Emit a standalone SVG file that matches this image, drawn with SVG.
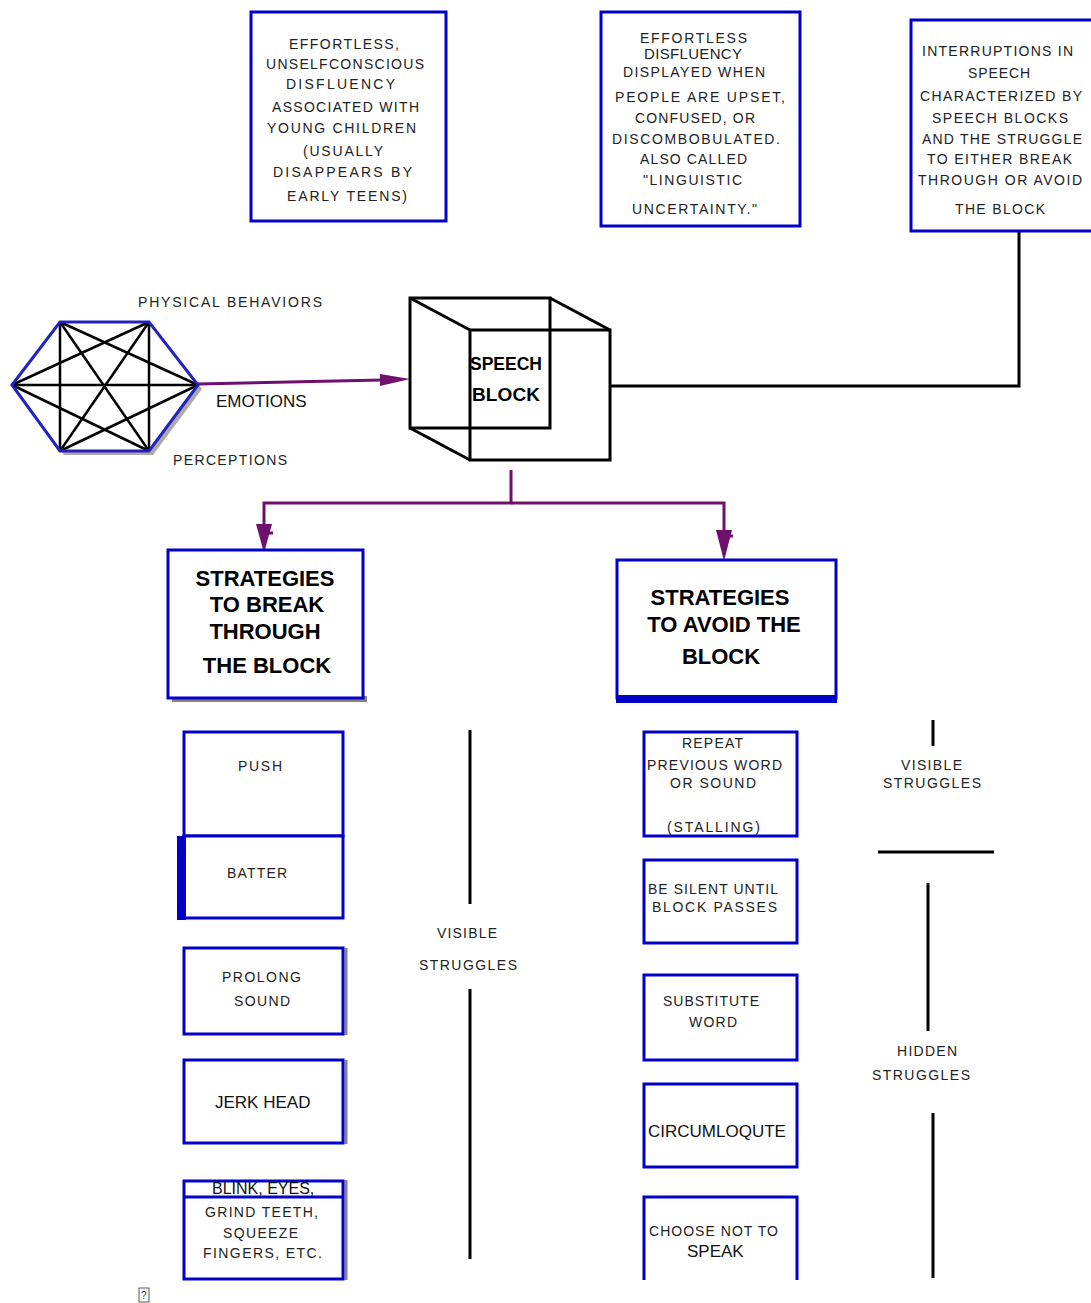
<svg xmlns="http://www.w3.org/2000/svg" width="1091" height="1303" viewBox="0 0 1091 1303">
<style>
.box{fill:#fff;stroke:#0000c8;stroke-width:3}
.sp{font-family:"Liberation Sans",Arial,sans-serif;font-size:14px;fill:#222}
.rg{font-family:"Liberation Sans",Arial,sans-serif;font-size:17px;fill:#111}
.bd{font-family:"Liberation Sans",Arial,sans-serif;font-size:22px;font-weight:bold;fill:#000;text-anchor:middle}
.ln{stroke:#000;stroke-width:3;fill:none}
.pl{stroke:#70106e;stroke-width:3;fill:none}
.pf{fill:#70106e}
.hx{stroke:#2222c0;stroke-width:3;fill:none}
.dg{stroke:#000;stroke-width:2.5}
.gy{stroke:#8a8282;stroke-width:3}
</style>
<rect width="1091" height="1303" fill="#fff"/>

<g id="connectors">
  <polyline class="ln" points="610,386 1019,386 1019,231"/>
  <line class="pl" x1="198" y1="384" x2="382" y2="380" stroke-width="2"/>
  <polygon class="pf" points="380,374 410,379 380,386"/>
  <polyline class="pl" points="511,470 511,503 264,503 264,526"/>
  <polyline class="pl" points="511,503 724,503 724,532"/>
  <polygon class="pf" points="256,524 272,524 264,553"/>
  <line class="pl" x1="264" y1="533" x2="273" y2="533"/>
  <polygon class="pf" points="716,530 732,530 724,561"/>
  <line class="pl" x1="724" y1="536" x2="733" y2="536"/>
</g>

<g id="box-effortless-children">
  <rect class="box" x="251" y="12" width="195" height="209"/>
  <text class="sp" x="289" y="49" textLength="110" lengthAdjust="spacing">EFFORTLESS,</text>
  <text class="sp" x="266" y="69" textLength="158" lengthAdjust="spacing">UNSELFCONSCIOUS</text>
  <text class="sp" x="286" y="89" textLength="109" lengthAdjust="spacing">DISFLUENCY</text>
  <text class="sp" x="272" y="112" textLength="147" lengthAdjust="spacing">ASSOCIATED WITH</text>
  <text class="sp" x="267" y="133" textLength="149" lengthAdjust="spacing">YOUNG CHILDREN</text>
  <text class="sp" x="303" y="156" textLength="80" lengthAdjust="spacing">(USUALLY</text>
  <text class="sp" x="273" y="177" textLength="139" lengthAdjust="spacing">DISAPPEARS BY</text>
  <text class="sp" x="287" y="201" textLength="120" lengthAdjust="spacing">EARLY TEENS)</text>
</g>

<g id="box-effortless-upset">
  <rect class="box" x="601" y="12" width="199" height="214"/>
  <text class="sp" x="640" y="43" textLength="107" lengthAdjust="spacing">EFFORTLESS</text>
  <text class="sp" x="644" y="59" style="font-size:15px" textLength="98" lengthAdjust="spacing">DISFLUENCY</text>
  <text class="sp" x="623" y="77" textLength="142" lengthAdjust="spacing">DISPLAYED WHEN</text>
  <text class="sp" x="615" y="102" textLength="170" lengthAdjust="spacing">PEOPLE ARE UPSET,</text>
  <text class="sp" x="635" y="123" textLength="120" lengthAdjust="spacing">CONFUSED, OR</text>
  <text class="sp" x="612" y="144" textLength="168" lengthAdjust="spacing">DISCOMBOBULATED.</text>
  <text class="sp" x="640" y="164" textLength="107" lengthAdjust="spacing">ALSO CALLED</text>
  <text class="sp" x="643" y="185" textLength="99" lengthAdjust="spacing">"LINGUISTIC</text>
  <text class="sp" x="632" y="214" textLength="125" lengthAdjust="spacing">UNCERTAINTY."</text>
</g>

<g id="box-interruptions">
  <rect class="box" x="911" y="20" width="200" height="211"/>
  <text class="sp" x="922" y="56" textLength="151" lengthAdjust="spacing">INTERRUPTIONS IN</text>
  <text class="sp" x="968" y="78" textLength="62" lengthAdjust="spacing">SPEECH</text>
  <text class="sp" x="920" y="101" textLength="162" lengthAdjust="spacing">CHARACTERIZED BY</text>
  <text class="sp" x="932" y="123" textLength="136" lengthAdjust="spacing">SPEECH BLOCKS</text>
  <text class="sp" x="922" y="144" textLength="160" lengthAdjust="spacing">AND THE STRUGGLE</text>
  <text class="sp" x="927" y="164" textLength="145" lengthAdjust="spacing">TO EITHER BREAK</text>
  <text class="sp" x="918" y="185" textLength="164" lengthAdjust="spacing">THROUGH OR AVOID</text>
  <text class="sp" x="955" y="214" textLength="90" lengthAdjust="spacing">THE BLOCK</text>
</g>

<g id="hexagon">
  <polygon points="16,389 64,326 153,326 202,389 153,455 64,455" fill="#9a9494" opacity="0.8"/>
  <polygon points="12,385 60,322 149,322 198,385 149,451 60,451" fill="#fff"/>
  <line class="dg" x1="12" y1="385" x2="149" y2="322"/>
  <line class="dg" x1="12" y1="385" x2="198" y2="385"/>
  <line class="dg" x1="12" y1="385" x2="149" y2="451"/>
  <line class="dg" x1="60" y1="322" x2="198" y2="385"/>
  <line class="dg" x1="60" y1="322" x2="149" y2="451"/>
  <line class="dg" x1="60" y1="322" x2="60" y2="451" stroke-width="2"/>
  <line class="dg" x1="60" y1="451" x2="149" y2="322"/>
  <line class="dg" x1="60" y1="451" x2="198" y2="385"/>
  <line class="dg" x1="149" y1="322" x2="149" y2="451" stroke-width="4"/>
  <polygon class="hx" points="12,385 60,322 149,322 198,385 149,451 60,451"/>
  <text class="sp" x="138" y="307" textLength="184" lengthAdjust="spacing">PHYSICAL BEHAVIORS</text>
  <text class="rg" x="216" y="407">EMOTIONS</text>
  <text class="sp" x="173" y="465" textLength="114" lengthAdjust="spacing">PERCEPTIONS</text>
</g>

<g id="speech-block">
  <rect class="ln" x="410" y="298" width="140" height="130"/>
  <rect class="ln" x="470" y="330" width="140" height="130"/>
  <line class="ln" x1="410" y1="298" x2="470" y2="330"/>
  <line class="ln" x1="550" y1="298" x2="610" y2="330"/>
  <line class="ln" x1="410" y1="428" x2="470" y2="460"/>
  <text x="470" y="370" textLength="72" lengthAdjust="spacingAndGlyphs" style="font-family:'Liberation Sans',Arial,sans-serif;font-size:19px;font-weight:bold">SPEECH</text>
  <text x="472" y="401" textLength="68" lengthAdjust="spacing" style="font-family:'Liberation Sans',Arial,sans-serif;font-size:19px;font-weight:bold">BLOCK</text>
</g>

<g id="strategies-break">
  <rect x="172" y="696" width="195" height="6" fill="#8a8282"/>
  <rect class="box" x="168" y="550" width="195" height="148"/>
  <text class="bd" x="265" y="586">STRATEGIES</text>
  <text class="bd" x="267" y="612">TO BREAK</text>
  <text class="bd" x="265" y="639">THROUGH</text>
  <text class="bd" x="267" y="673">THE BLOCK</text>
</g>

<g id="strategies-avoid">
  <rect class="box" x="617" y="560" width="219" height="138"/>
  <rect x="616" y="695" width="221" height="8" fill="#0000c8"/>
  <text class="bd" x="720" y="605">STRATEGIES</text>
  <text class="bd" x="724" y="632">TO AVOID THE</text>
  <text class="bd" x="721" y="664">BLOCK</text>
</g>

<g id="push">
  <rect class="box" x="184" y="732" width="159" height="104"/>
  <text class="sp" x="238" y="771" textLength="44" lengthAdjust="spacing">PUSH</text>
</g>
<g id="batter">
  <rect class="box" x="184" y="836" width="159" height="82"/>
  <rect x="177" y="836" width="9" height="84" fill="#0000c8"/>
  <text class="sp" x="227" y="878" textLength="60" lengthAdjust="spacing">BATTER</text>
</g>
<g id="prolong">
  <line class="gy" x1="346" y1="948" x2="346" y2="1035"/>
  <rect class="box" x="184" y="948" width="159" height="86"/>
  <text class="sp" x="222" y="982" textLength="79" lengthAdjust="spacing">PROLONG</text>
  <text class="sp" x="234" y="1006" textLength="56" lengthAdjust="spacing">SOUND</text>
</g>
<g id="jerk-head">
  <line class="gy" x1="346" y1="1060" x2="346" y2="1144"/>
  <rect class="box" x="184" y="1060" width="159" height="83"/>
  <text class="rg" x="215" y="1108">JERK HEAD</text>
</g>
<g id="blink">
  <line class="gy" x1="346" y1="1180" x2="346" y2="1280"/>
  <rect class="box" x="184" y="1181" width="159" height="98"/>
  <line x1="184" y1="1197" x2="343" y2="1197" stroke="#0000c8" stroke-width="3"/>
  <text class="rg" x="212" y="1194" style="font-size:16px">BLINK, EYES,</text>
  <text class="sp" x="205" y="1217" textLength="113" lengthAdjust="spacing">GRIND TEETH,</text>
  <text class="sp" x="223" y="1238" textLength="75" lengthAdjust="spacing">SQUEEZE</text>
  <text class="sp" x="203" y="1258" textLength="119" lengthAdjust="spacing">FINGERS, ETC.</text>
</g>

<g id="visible-struggles-left">
  <line class="ln" x1="470" y1="730" x2="470" y2="904"/>
  <line class="ln" x1="470" y1="989" x2="470" y2="1259"/>
  <text class="sp" x="437" y="938" textLength="60" lengthAdjust="spacing">VISIBLE</text>
  <text class="sp" x="419" y="970" textLength="98" lengthAdjust="spacing">STRUGGLES</text>
</g>

<g id="repeat">
  <rect class="box" x="644" y="732" width="153" height="104"/>
  <text class="sp" x="682" y="748" textLength="61" lengthAdjust="spacing">REPEAT</text>
  <text class="sp" x="647" y="770" textLength="135" lengthAdjust="spacing">PREVIOUS WORD</text>
  <text class="sp" x="670" y="788" textLength="86" lengthAdjust="spacing">OR SOUND</text>
  <text class="sp" x="667" y="832" textLength="93" lengthAdjust="spacing">(STALLING)</text>
</g>
<g id="be-silent">
  <rect class="box" x="644" y="860" width="153" height="83"/>
  <text class="sp" x="648" y="894" textLength="130" lengthAdjust="spacing">BE SILENT UNTIL</text>
  <text class="sp" x="652" y="912" textLength="125" lengthAdjust="spacing">BLOCK PASSES</text>
</g>
<g id="substitute">
  <rect class="box" x="644" y="975" width="153" height="85"/>
  <text class="sp" x="663" y="1006" textLength="96" lengthAdjust="spacing">SUBSTITUTE</text>
  <text class="sp" x="689" y="1027" textLength="48" lengthAdjust="spacing">WORD</text>
</g>
<g id="circumloqute">
  <rect class="box" x="644" y="1084" width="153" height="83"/>
  <text class="rg" x="648" y="1137">CIRCUMLOQUTE</text>
</g>
<g id="choose-not">
  <path class="box" d="M644,1280 V1197 H797 V1280" fill="none"/>
  <text class="sp" x="649" y="1236" textLength="129" lengthAdjust="spacing">CHOOSE NOT TO</text>
  <text class="rg" x="687" y="1257">SPEAK</text>
</g>

<g id="struggles-right">
  <line class="ln" x1="933" y1="720" x2="933" y2="746"/>
  <text class="sp" x="901" y="770" textLength="61" lengthAdjust="spacing">VISIBLE</text>
  <text class="sp" x="883" y="788" textLength="98" lengthAdjust="spacing">STRUGGLES</text>
  <line class="ln" x1="878" y1="852" x2="994" y2="852"/>
  <line class="ln" x1="928" y1="883" x2="928" y2="1031"/>
  <text class="sp" x="897" y="1056" textLength="60" lengthAdjust="spacing">HIDDEN</text>
  <text class="sp" x="872" y="1080" textLength="98" lengthAdjust="spacing">STRUGGLES</text>
  <line class="ln" x1="933" y1="1113" x2="933" y2="1278"/>
</g>

<g id="missing-glyph">
  <rect x="139" y="1288" width="10" height="14" fill="none" stroke="#555" stroke-width="1"/>
  <text x="141" y="1299" style="font-family:'Liberation Sans',Arial,sans-serif;font-size:10px;fill:#333">?</text>
</g>
</svg>
